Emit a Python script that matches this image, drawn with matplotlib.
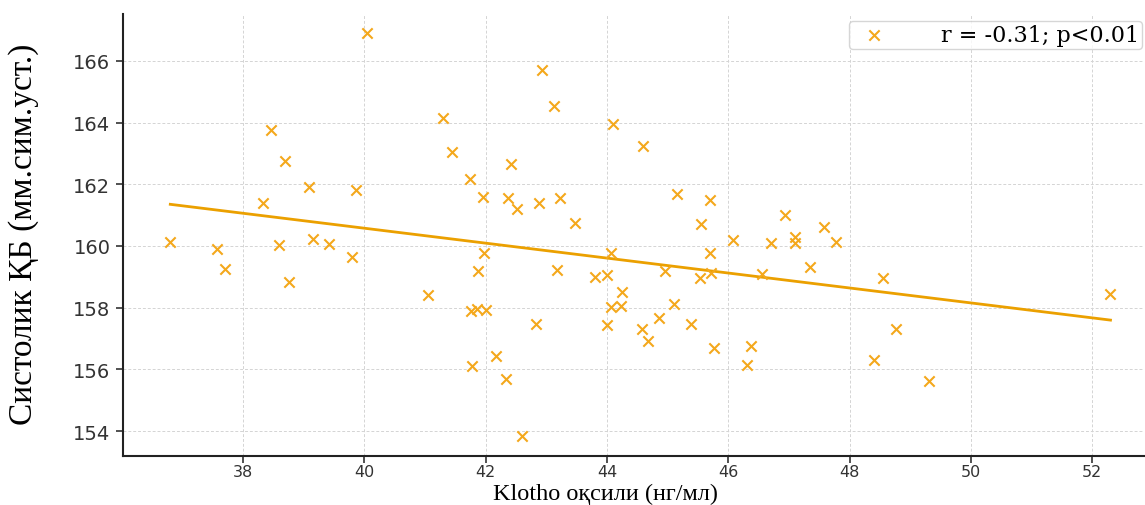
import numpy as np
import matplotlib
matplotlib.use("Agg")
import matplotlib.pyplot as plt

klotho = [36.8, 37.57, 37.7, 38.33, 38.46, 38.6, 38.69, 38.76, 39.09, 39.15,
          39.42, 39.8, 39.86, 40.05, 41.05, 41.3, 41.45, 41.74, 41.75, 41.85,
          41.78, 41.88, 41.95, 41.98, 42.0, 42.17, 42.33, 42.37, 42.42, 42.52,
          42.6, 42.83, 42.88, 42.92, 43.12, 43.18, 43.23, 43.48, 43.8, 44.0,
          44.0, 44.06, 44.07, 44.1, 44.23, 44.25, 44.58, 44.6, 44.68, 44.85,
          44.96, 45.1, 45.15, 45.38, 45.54, 45.55, 45.7, 45.7, 45.72, 45.77,
          46.08, 46.3, 46.38, 46.55, 46.7, 46.94, 47.1, 47.1, 47.35, 47.57,
          47.77, 48.4, 48.55, 48.77, 49.3, 52.3]
sbp = [160.13, 159.9, 159.25, 161.4, 163.75, 160.03, 162.75, 158.83, 161.9, 160.23,
       160.06, 159.64, 161.8, 166.9, 158.41, 164.15, 163.05, 162.17, 157.9, 157.95,
       156.1, 159.2, 161.6, 159.77, 157.93, 156.42, 155.7, 161.55, 162.66, 161.2,
       153.85, 157.46, 161.4, 165.7, 164.53, 159.23, 161.57, 160.73, 159.0, 159.06,
       157.43, 158.03, 159.77, 163.95, 158.06, 158.5, 157.3, 163.23, 156.93, 157.66,
       159.2, 158.12, 161.7, 157.48, 158.96, 160.7, 161.5, 159.76, 159.12, 156.7,
       160.18, 156.15, 156.77, 159.1, 160.1, 161.0, 160.28, 160.1, 159.33, 160.6,
       160.12, 156.3, 158.95, 157.3, 155.63, 158.45]

xticks = [38, 40, 42, 44, 46, 48, 50, 52]
yticks = [154, 156, 158, 160, 162, 164, 166]
legend_label = "r = -0.31; p<0.01"
xlabel = "Klotho оқсили (нг/мл)"
ylabel = "Систолик ҚБ (мм.сим.уст.)"

x = np.array(klotho)
y = np.array(sbp)
slope, intercept = np.polyfit(x, y, 1)
xl = np.array([x.min(), x.max()])

fig = plt.figure(figsize=(11.45, 5.06), dpi=100)
ax = fig.add_axes([0.1074, 0.0968, 0.8916, 0.8735])

ax.scatter(x, y, marker='x', s=55, color='#F4A81C', linewidths=1.5,
           label=legend_label, zorder=3)
ax.plot(xl, slope * xl + intercept, color='#EBA000', linewidth=2, zorder=2)

ax.set_xlim(36.02, 52.85)
ax.set_ylim(153.19, 167.52)
ax.set_xticks(xticks)
ax.set_yticks(yticks)
ax.tick_params(axis='x', labelsize=11.5, colors='#333333', length=5, width=1.2, pad=1)
ax.tick_params(axis='y', labelsize=14, colors='#333333', length=5, width=1.2, pad=4)
ax.grid(True, linestyle=(0, (3, 2)), color='#d4d4d4', linewidth=0.7)
ax.set_axisbelow(True)
for s in ['top', 'right']:
    ax.spines[s].set_visible(False)
for s in ['left', 'bottom']:
    ax.spines[s].set_linewidth(1.5)
    ax.spines[s].set_color('#222222')

fig.text(0.529, 0.002, xlabel, family='Liberation Serif', fontsize=17.5,
         ha='center', va='bottom')
ax.set_ylabel(ylabel, family='Liberation Serif', fontsize=24)
ax.yaxis.set_label_coords(-0.082, 0.505)

leg = ax.legend(loc='upper right', prop={'family': 'DejaVu Serif', 'size': 16},
                frameon=True, bbox_to_anchor=(0.9985, 0.985),
                borderaxespad=0.0, handletextpad=2.0, handlelength=2.0,
                borderpad=0.15, markerscale=1.0)
leg.get_frame().set_edgecolor('#cccccc')

fig.savefig('out.png', dpi=100)
